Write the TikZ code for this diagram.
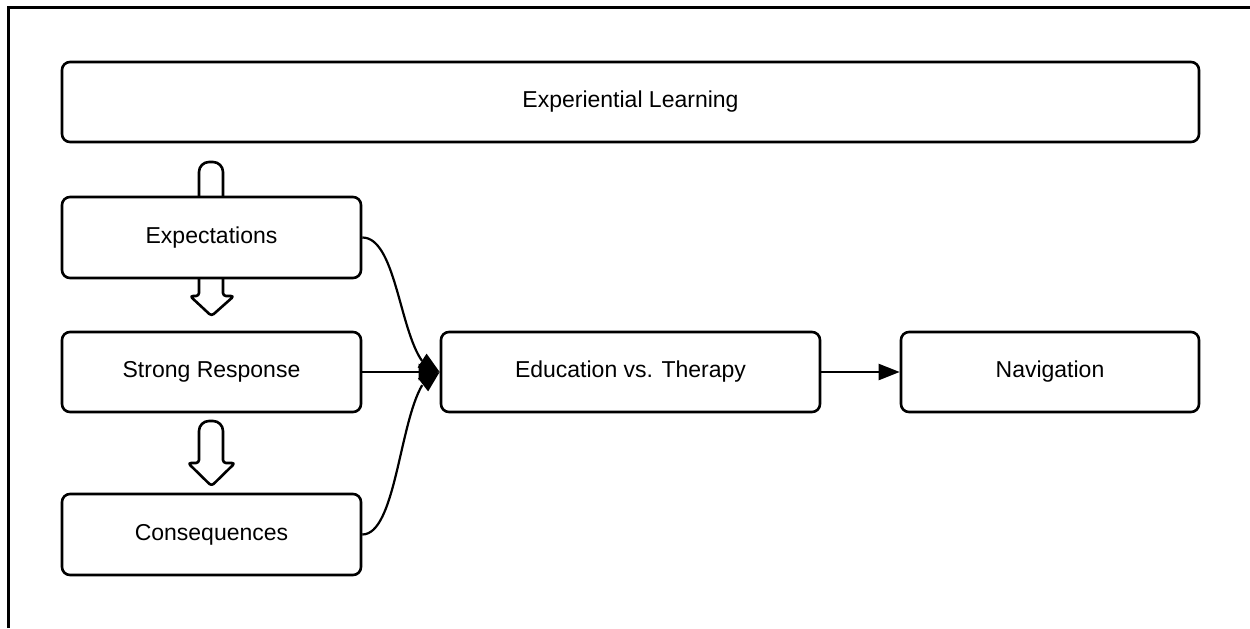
\documentclass[tikz,border=0pt]{standalone}
\usepackage{fontspec}
\setmainfont{Liberation Sans}
\usetikzlibrary{arrows.meta,bending}
\begin{document}
\begin{tikzpicture}[x=0.5pt,y=-0.5pt,
  box/.style={draw,line width=1.3pt,rounded corners=4pt,fill=white,inner sep=0pt,font=\fontsize{11.5}{14}\selectfont},
  conn/.style={line width=1.1pt,-{Triangle[length=10.5pt,width=8pt]}},
  blockarrow/.style={draw,line width=1.3pt,fill=white,rounded corners=1.5pt,line join=round},
  frame/.style={line width=1.5pt}]
\useasboundingbox (0,0) rectangle (1250,628);
\draw[frame] (8.5,628) -- (8.5,7.5) -- (1250,7.5);
% block arrows
\draw[blockarrow,rounded corners=5pt] (199,200) -- (199,162) -- (223,162) -- (223,200);
\draw[blockarrow] (199,277) -- (199,296) -- (190,296) -- (211.5,316) -- (234,296) -- (223,296) -- (223,277);
\draw[blockarrow] (199,463) [rounded corners=5pt] -- (199,421) -- (223,421) [rounded corners=1.5pt] -- (223,463) -- (235,463) -- (211.5,486) -- (188,463) -- cycle;
% boxes
\node[box,minimum width=568.5pt,minimum height=40pt] (exl) at (630.5,102) {Experiential Learning};
\node[box,minimum width=149.5pt,minimum height=40.5pt] (exp) at (211.5,237.5) {Expectations};
\node[box,minimum width=149.5pt,minimum height=40pt] (str) at (211.5,372) {Strong Response};
\node[box,minimum width=149.5pt,minimum height=40.5pt] (con) at (211.5,534.5) {Consequences};
\node[box,minimum width=189.5pt,minimum height=40pt] (edu) at (630.5,372) {Education vs. Therapy};
\node[box,minimum width=149pt,minimum height=40pt] (nav) at (1050,372) {Navigation};
% connectors
\draw[conn] (exp.east) .. controls +(20pt,0) and +(-20pt,0) .. (edu.west);
\draw[conn] (con.east) .. controls +(20pt,0) and +(-20pt,0) .. (edu.west);
\draw[conn] (str.east) -- (edu.west);
\draw[conn] (edu.east) -- (nav.west);
\end{tikzpicture}
\end{document}
